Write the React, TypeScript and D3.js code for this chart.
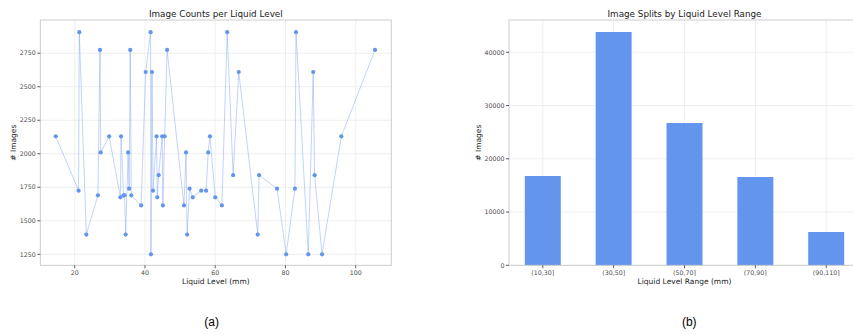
import React from "react";
import * as d3 from "d3";

const levels = [14.6, 21.1, 21.3, 23.3, 26.6, 27.2, 27.4, 29.8, 33.0, 33.2, 33.9, 34.2, 34.5, 35.2, 35.5, 35.8, 36.1, 38.9, 40.2, 41.6, 41.7, 42.0, 42.3, 43.3, 43.5, 43.9, 44.9, 45.1, 45.6, 46.3, 51.1, 51.7, 52.0, 52.7, 53.6, 56.0, 57.4, 58.0, 58.5, 60.0, 61.9, 63.4, 65.1, 66.7, 72.1, 72.5, 77.6, 80.2, 82.7, 83.0, 86.5, 87.9, 88.3, 90.4, 95.9, 105.5];
const counts = [2130, 1725, 2907, 1397, 1690, 2775, 2010, 2130, 1675, 2130, 1690, 1690, 1397, 2010, 1740, 2775, 1690, 1615, 2610, 2907, 1250, 2610, 1725, 2130, 1675, 1840, 2130, 1615, 2130, 2775, 1615, 2010, 1397, 1740, 1675, 1725, 1725, 2010, 2130, 1675, 1615, 2907, 1840, 2610, 1397, 1840, 1740, 1250, 1740, 2907, 1250, 2610, 1840, 1250, 2130, 2775];
const leftXTicks = [20, 40, 60, 80, 100];
const leftYTicks = [1250, 1500, 1750, 2000, 2250, 2500, 2750];

const ranges = ["(10,30]", "(30,50]", "(50,70]", "(70,90]", "(90,110]"];
const splits = [16770, 43810, 26720, 16580, 6250];
const rightYTicks = [0, 10000, 20000, 30000, 40000];

const BLUE = "#6495ED";
const GRID = "#ebebeb";
const FRAME = "#c8c8c8";
const TICKTXT = "#4d4d4d";
const FONT = "DejaVu Sans";

export default function App() {
  // left panel
  const L = { x0: 40.3, x1: 391.3, y0: 20, y1: 265.3 };
  const lx = d3.scaleLinear().domain([10.2, 110.13]).range([L.x0, L.x1]);
  const ly = d3.scaleLinear().domain([1168, 2998]).range([L.y1, L.y0]);
  const pts = levels.map((v, i) => [v, counts[i]] as [number, number]);
  const line = d3.line<[number, number]>().x((d) => lx(d[0])).y((d) => ly(d[1]));

  // right panel
  const R = { x0: 509, x1: 870, y0: 20, y1: 265.3 };
  const rx = d3.scalePoint<string>().domain(ranges).range([542.8, 826.2]);
  const ry = d3.scaleLinear().domain([0, 46066]).range([R.y1, R.y0]);
  const bw = rx.step() * 0.508;

  return (
    <svg width={853} height={335} style={{ position: "absolute", left: 0, top: 0, background: "#fff" }} fontFamily={FONT}>
      {/* LEFT */}
      <g>
        <rect x={L.x0} y={L.y0} width={L.x1 - L.x0} height={L.y1 - L.y0} fill="#fff" />
        {leftXTicks.map((t) => (
          <line key={"gx" + t} x1={lx(t)} x2={lx(t)} y1={L.y0} y2={L.y1} stroke={GRID} strokeWidth={0.8} />
        ))}
        {leftYTicks.map((t) => (
          <line key={"gy" + t} x1={L.x0} x2={L.x1} y1={ly(t)} y2={ly(t)} stroke={GRID} strokeWidth={0.8} />
        ))}
        <path d={line(pts) || ""} fill="none" stroke={BLUE} strokeOpacity={0.5} strokeWidth={0.8} />
        {pts.map((d, i) => (
          <circle key={i} cx={lx(d[0])} cy={ly(d[1])} r={2.1} fill={BLUE} />
        ))}
        <rect x={L.x0} y={L.y0} width={L.x1 - L.x0} height={L.y1 - L.y0} fill="none" stroke={FRAME} strokeWidth={0.9} />
        {leftXTicks.map((t) => (
          <g key={"tx" + t}>
            <line x1={lx(t)} x2={lx(t)} y1={L.y1} y2={L.y1 + 3} stroke="#333" strokeWidth={0.8} />
            <text x={lx(t)} y={L.y1 + 9.5} fontSize={6.3} fill={TICKTXT} textAnchor="middle">{t}</text>
          </g>
        ))}
        {leftYTicks.map((t) => (
          <g key={"ty" + t}>
            <line x1={L.x0 - 3} x2={L.x0} y1={ly(t)} y2={ly(t)} stroke="#333" strokeWidth={0.8} />
            <text x={L.x0 - 4.5} y={ly(t) + 2.2} fontSize={6.3} fill={TICKTXT} textAnchor="end">{t}</text>
          </g>
        ))}
        <text x={(L.x0 + L.x1) / 2} y={17} fontSize={8.8} fill="#1a1a1a" textAnchor="middle">Image Counts per Liquid Level</text>
        <text x={(L.x0 + L.x1) / 2} y={284.3} fontSize={7.5} fill="#1a1a1a" textAnchor="middle">Liquid Level (mm)</text>
        <text transform={`translate(16,${(L.y0 + L.y1) / 2}) rotate(-90)`} fontSize={7.5} fill="#1a1a1a" textAnchor="middle"># Images</text>
      </g>

      {/* RIGHT */}
      <g>
        {ranges.map((c) => (
          <line key={"rgx" + c} x1={rx(c)} x2={rx(c)} y1={R.y0} y2={R.y1} stroke={GRID} strokeWidth={0.8} />
        ))}
        {rightYTicks.map((t) => (
          <line key={"rgy" + t} x1={R.x0} x2={R.x1} y1={ry(t)} y2={ry(t)} stroke={GRID} strokeWidth={0.8} />
        ))}
        {ranges.map((c, i) => (
          <rect key={"bar" + c} x={(rx(c) as number) - bw / 2} y={ry(splits[i])} width={bw} height={ry(0) - ry(splits[i])} fill={BLUE} />
        ))}
        <rect x={R.x0} y={R.y0} width={R.x1 - R.x0} height={R.y1 - R.y0} fill="none" stroke={FRAME} strokeWidth={0.9} />
        {ranges.map((c) => (
          <g key={"rtx" + c}>
            <line x1={rx(c)} x2={rx(c)} y1={R.y1} y2={R.y1 + 3} stroke="#333" strokeWidth={0.8} />
            <text x={rx(c)} y={R.y1 + 9.5} fontSize={6.3} fill={TICKTXT} textAnchor="middle">{c}</text>
          </g>
        ))}
        {rightYTicks.map((t) => (
          <g key={"rty" + t}>
            <line x1={R.x0 - 3} x2={R.x0} y1={ry(t)} y2={ry(t)} stroke="#333" strokeWidth={0.8} />
            <text x={R.x0 - 4.5} y={ry(t) + 2.2} fontSize={6.3} fill={TICKTXT} textAnchor="end">{t}</text>
          </g>
        ))}
        <text x={684.5} y={17} fontSize={8.8} fill="#1a1a1a" textAnchor="middle">Image Splits by Liquid Level Range</text>
        <text x={684.5} y={284.3} fontSize={7.5} fill="#1a1a1a" textAnchor="middle">Liquid Level Range (mm)</text>
        <text transform={`translate(480.5,${(R.y0 + R.y1) / 2}) rotate(-90)`} fontSize={7.5} fill="#1a1a1a" textAnchor="middle"># Images</text>
      </g>

      <text x={211.7} y={326} fontSize={12} fontFamily="Liberation Sans" fill="#000" textAnchor="middle">(a)</text>
      <text x={689.3} y={326} fontSize={12} fontFamily="Liberation Sans" fill="#000" textAnchor="middle">(b)</text>
    </svg>
  );
}
